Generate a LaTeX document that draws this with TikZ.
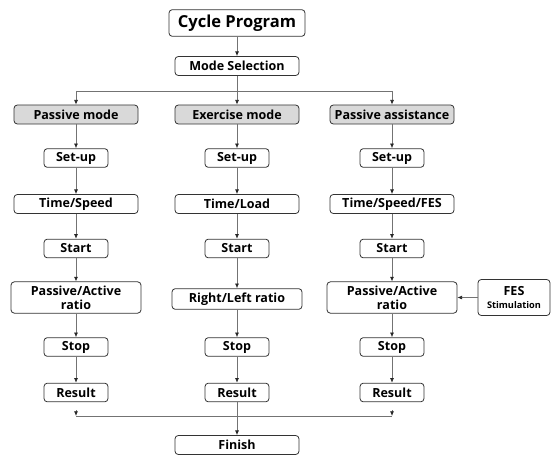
\documentclass[tikz,border=0pt]{standalone}
\usepackage{fontspec}
\setmainfont{Open Sans}
\usepackage{tikz}
\usetikzlibrary{arrows.meta}
\definecolor{boxgray}{RGB}{217,217,217}
\definecolor{linegray}{RGB}{115,115,115}

\begin{document}
\begin{tikzpicture}[x=0.75pt,y=-0.75pt,
  box/.style={draw=black!80, line width=0.6pt, rounded corners=2.5pt, inner sep=0pt, align=center, fill=white, font=\fontsize{9.4}{11}\selectfont\bfseries},
  titlebox/.style={box, minimum width=102pt, minimum height=20pt, font=\fontsize{12.4}{14}\selectfont\bfseries},
  widebox/.style={box, minimum width=93pt, minimum height=14.25pt},
  modebox/.style={widebox, fill=boxgray},
  smallbox/.style={box, minimum width=48pt, minimum height=14pt},
  ratiobox/.style={box, minimum width=97.5pt, minimum height=23.5pt, font=\fontsize{9.4}{10.5}\selectfont\bfseries},
  fesbox/.style={box, minimum width=54pt, minimum height=27pt, font=\fontsize{9.4}{9}\selectfont\bfseries},
  link/.style={draw=linegray, line width=0.55pt},
  arr/.style={link, -{Latex[length=3.5pt,width=3pt,color=black!85]}}]
\useasboundingbox (0,0) rectangle (555,456);

\node[titlebox] (cycle) at (237,23) {Cycle Program};
\node[widebox] (modesel) at (237,66) {Mode Selection};

\node[modebox] (pas) at (76,114.5) {Passive mode};
\node[modebox] (exe) at (237,114.5) {Exercise mode};
\node[modebox] (asst) at (392,114.5) {Passive assistance};

\node[smallbox] (setA) at (76,158) {Set-up};
\node[smallbox] (setB) at (237,158) {Set-up};
\node[smallbox] (setC) at (392,158) {Set-up};

\node[widebox] (timeA) at (76,204) {Time/Speed};
\node[widebox] (timeB) at (237,204) {Time/Load};
\node[widebox] (timeC) at (392,204) {Time/Speed/FES};

\node[smallbox] (startA) at (76,248.5) {Start};
\node[smallbox] (startB) at (237,248.5) {Start};
\node[smallbox] (startC) at (392,248.5) {Start};

\node[ratiobox] (ratioA) at (76,297.5) {Passive/Active\\ratio};
\node[ratiobox, minimum height=15.5pt] (ratioB) at (237,299) {Right/Left ratio};
\node[ratiobox] (ratioC) at (392,297.5) {Passive/Active\\ratio};
\node[fesbox] (fes) at (514,297.5) {FES\\[1pt]{\fontsize{6.9}{8}\selectfont\bfseries Stimulation}};

\node[smallbox] (stopA) at (76,347) {Stop};
\node[smallbox] (stopB) at (237,347) {Stop};
\node[smallbox] (stopC) at (392,347) {Stop};

\node[smallbox] (resA) at (76,392.5) {Result};
\node[smallbox] (resB) at (237,392.5) {Result};
\node[smallbox] (resC) at (392,392.5) {Result};

\node[widebox] (finish) at (237,445) {Finish};

\coordinate (topL) at (76,91);
\coordinate (topR) at (392,91);
\coordinate (botL) at (76,416);
\coordinate (botR) at (392,416);
\coordinate (stubL) at (76,410);
\coordinate (stubR) at (392,410);

\draw[arr] (cycle) -- (modesel);
\draw[arr] (modesel) -- (exe);
\draw[link] (topL) -- (topR);
\draw[arr] (topL) -- (pas);
\draw[arr] (topR) -- (asst);

\draw[arr] (pas) -- (setA);
\draw[arr] (setA) -- (timeA);
\draw[arr] (timeA) -- (startA);
\draw[arr] (startA) -- (ratioA);
\draw[arr] (ratioA) -- (stopA);
\draw[arr] (stopA) -- (resA);

\draw[arr] (exe) -- (setB);
\draw[arr] (setB) -- (timeB);
\draw[arr] (timeB) -- (startB);
\draw[arr] (startB) -- (ratioB);
\draw[arr] (ratioB) -- (stopB);
\draw[arr] (stopB) -- (resB);

\draw[arr] (asst) -- (setC);
\draw[arr] (setC) -- (timeC);
\draw[arr] (timeC) -- (startC);
\draw[arr] (startC) -- (ratioC);
\draw[arr] (ratioC) -- (stopC);
\draw[arr] (stopC) -- (resC);
\draw[arr] (fes) -- (ratioC);

\draw[arr] (stubL) -- (botL);
\draw[arr] (stubR) -- (botR);
\draw[link] (botL) -- (botR);
\draw[arr] (resB) -- (finish);
\end{tikzpicture}
\end{document}
